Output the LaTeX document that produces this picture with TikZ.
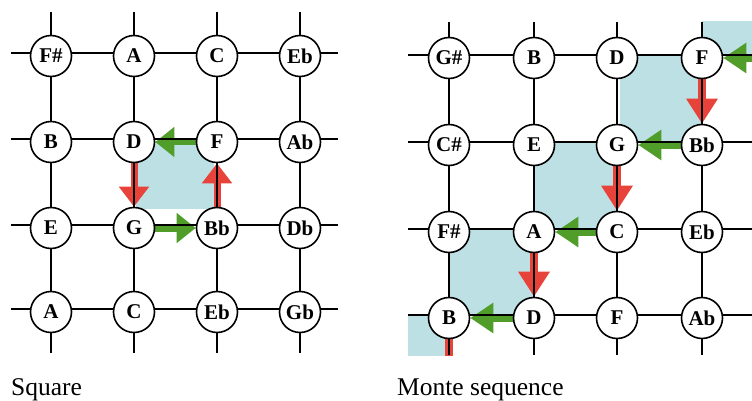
\documentclass[tikz,border=0pt]{standalone}
\usepackage{fontspec}
\setmainfont{Liberation Serif}
\usetikzlibrary{arrows.meta}
\definecolor{cellblue}{RGB}{188,224,228}
\definecolor{arrred}{RGB}{232,67,58}
\definecolor{arrgreen}{RGB}{80,157,42}
\pgfdeclarelayer{cells}
\pgfdeclarelayer{arrowlayer}
\pgfdeclarelayer{gridlayer}
\pgfsetlayers{cells,arrowlayer,gridlayer,main}
\begin{document}
\begin{tikzpicture}[x=1pt,y=-1pt,
  note/.style={circle, draw, line width=1.6pt, fill=white, minimum size=41pt,
    inner sep=0pt, font=\fontsize{21}{25}\selectfont\bfseries},
  gridline/.style={line width=1.6pt},
  cell/.style={fill=cellblue},
  redarrL/.style={draw=arrred, line width=7pt, -{Triangle[width=29pt,length=20pt]}},
  greenarrL/.style={draw=arrgreen, line width=7pt, -{Triangle[width=29pt,length=19pt]}},
  redarrR/.style={draw=arrred, line width=8pt, -{Triangle[width=30pt,length=25pt]}},
  greenarrR/.style={draw=arrgreen, line width=8pt, -{Triangle[width=29pt,length=23pt]}},
  caption/.style={anchor=base west, inner sep=0pt, font=\fontsize{25.5}{30}\selectfont}]
\path[use as bounding box, clip] (0,0) rectangle (752,401);

% ---------- Left grid: Square ----------
\node[note] (L11) at (51,56) {F\#};
\node[note] (L12) at (134,56) {A};
\node[note] (L13) at (217,56) {C};
\node[note] (L14) at (300,56) {Eb};
\node[note] (L21) at (51,142) {B};
\node[note] (L22) at (134,142) {D};
\node[note] (L23) at (217,142) {F};
\node[note] (L24) at (300,142) {Ab};
\node[note] (L31) at (51,228) {E};
\node[note] (L32) at (134,228) {G};
\node[note] (L33) at (217,228) {Bb};
\node[note] (L34) at (300,228) {Db};
\node[note] (L41) at (51,312) {A};
\node[note] (L42) at (134,312) {C};
\node[note] (L43) at (217,312) {Eb};
\node[note] (L44) at (300,312) {Gb};

\begin{pgfonlayer}{cells}
  \fill[cell] (136,141) rectangle (214,209);
\end{pgfonlayer}
\begin{pgfonlayer}{gridlayer}
  \foreach \yy in {53,139,225,309} \draw[gridline] (11,\yy) -- (338,\yy);
  \foreach \xx in {51,134,217,300} \draw[gridline] (\xx,12) -- (\xx,353);
\end{pgfonlayer}
\begin{pgfonlayer}{arrowlayer}
  \draw[redarrL] (L22) -- (L32);
  \draw[greenarrL] (L32) -- (L33);
  \draw[redarrL] (L33) -- (L23);
  \draw[greenarrL] (L23) -- (L22);
\end{pgfonlayer}

% ---------- Right grid: Monte sequence ----------
\node[note] (R11) at (449,58) {G\#};
\node[note] (R12) at (534,58) {B};
\node[note] (R13) at (617,58) {D};
\node[note] (R14) at (702,58) {F};
\node[note] (R21) at (449,145) {C\#};
\node[note] (R22) at (534,145) {E};
\node[note] (R23) at (617,145) {G};
\node[note] (R24) at (702,145) {Bb};
\node[note] (R31) at (449,232) {F\#};
\node[note] (R32) at (534,232) {A};
\node[note] (R33) at (617,232) {C};
\node[note] (R34) at (702,232) {Eb};
\node[note] (R41) at (449,318) {B};
\node[note] (R42) at (534,318) {D};
\node[note] (R43) at (617,318) {F};
\node[note] (R44) at (702,318) {Ab};
\coordinate (Rin) at (800,58);
\coordinate (Rout) at (449,430);

\begin{pgfonlayer}{cells}
  \begin{scope}
    \clip (408,22) rectangle (752,355);
    \fill[cell] (702,0) rectangle (790,55);
    \fill[cell] (620,55) rectangle (702,142);
    \fill[cell] (534,142) rectangle (617,229);
    \fill[cell] (449,229) rectangle (534,315);
    \fill[cell] (380,315) rectangle (449,400);
  \end{scope}
\end{pgfonlayer}
\begin{pgfonlayer}{gridlayer}
  \begin{scope}
    \clip (408,22) rectangle (752,355);
    \foreach \yy in {55,142,229,315} \draw[gridline] (408,\yy) -- (752,\yy);
    \foreach \xx in {449,534,617,702} \draw[gridline] (\xx,22) -- (\xx,355);
  \end{scope}
\end{pgfonlayer}
\begin{pgfonlayer}{arrowlayer}
  \begin{scope}
    \clip (408,22) rectangle (752,355);
    \draw[greenarrR] (Rin) -- (R14);
    \draw[redarrR] (R14) -- (R24);
    \draw[greenarrR] (R24) -- (R23);
    \draw[redarrR] (R23) -- (R33);
    \draw[greenarrR] (R33) -- (R32);
    \draw[redarrR] (R32) -- (R42);
    \draw[greenarrR] (R42) -- (R41);
    \draw[redarrR] (R41) -- (Rout);
  \end{scope}
\end{pgfonlayer}

% ---------- Captions ----------
\node[caption] (capL) at (11,395) {Square};
\node[caption] (capR) at (397,395) {Monte sequence};
\end{tikzpicture}
\end{document}
